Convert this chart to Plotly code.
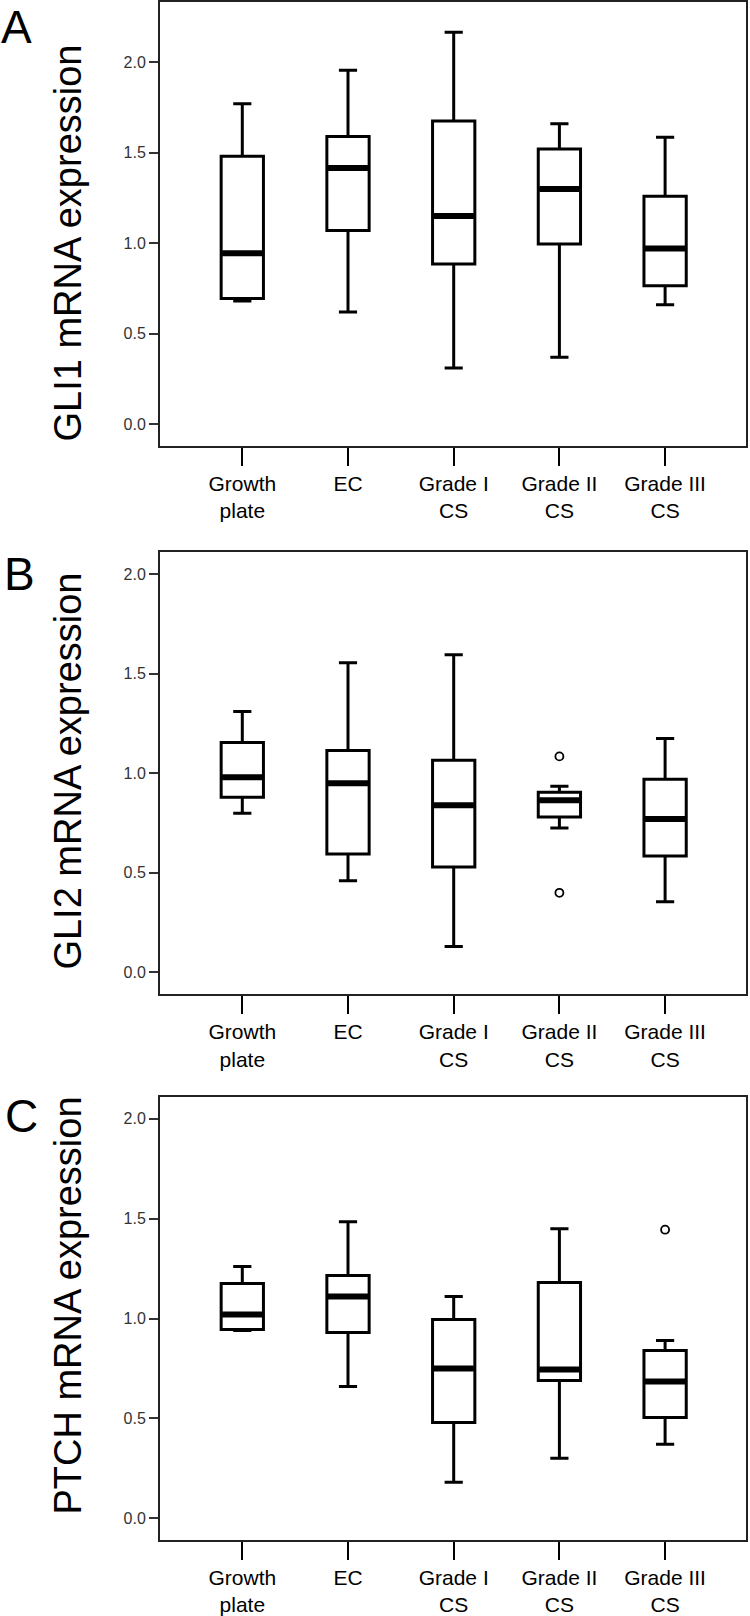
import plotly.graph_objects as go

W, H = 750, 1616

categories = ["Growth<br>plate", "EC", "Grade I<br>CS", "Grade II<br>CS", "Grade III<br>CS"]

# Panel A: GLI1
gli1_lower = [0.68, 0.62, 0.31, 0.37, 0.66]
gli1_q1 = [0.695, 1.07, 0.885, 0.995, 0.765]
gli1_median = [0.945, 1.415, 1.15, 1.30, 0.97]
gli1_q3 = [1.48, 1.59, 1.675, 1.52, 1.26]
gli1_upper = [1.77, 1.955, 2.165, 1.66, 1.585]
gli1_outlier_cat = []
gli1_outlier_val = []

# Panel B: GLI2
gli2_lower = [0.80, 0.46, 0.13, 0.725, 0.355]
gli2_q1 = [0.88, 0.595, 0.53, 0.78, 0.585]
gli2_median = [0.98, 0.95, 0.84, 0.865, 0.77]
gli2_q3 = [1.155, 1.115, 1.065, 0.905, 0.97]
gli2_upper = [1.31, 1.555, 1.595, 0.935, 1.175]
gli2_outlier_cat = [3, 3]
gli2_outlier_val = [1.085, 0.40]

# Panel C: PTCH
ptch_lower = [0.94, 0.66, 0.18, 0.30, 0.37]
ptch_q1 = [0.945, 0.93, 0.48, 0.69, 0.505]
ptch_median = [1.02, 1.11, 0.75, 0.745, 0.685]
ptch_q3 = [1.175, 1.215, 0.995, 1.18, 0.84]
ptch_upper = [1.26, 1.485, 1.11, 1.45, 0.89]
ptch_outlier_cat = [4]
ptch_outlier_val = [1.445]

y_ticks = [0.0, 0.5, 1.0, 1.5, 2.0]
titles = ["GLI1 mRNA expression", "GLI2 mRNA expression", "PTCH mRNA expression"]
letters = ["A", "B", "C"]

panels = [
    (gli1_lower, gli1_q1, gli1_median, gli1_q3, gli1_upper, gli1_outlier_cat, gli1_outlier_val),
    (gli2_lower, gli2_q1, gli2_median, gli2_q3, gli2_upper, gli2_outlier_cat, gli2_outlier_val),
    (ptch_lower, ptch_q1, ptch_median, ptch_q3, ptch_upper, ptch_outlier_cat, ptch_outlier_val),
]

# pixel layout (top, bottom) of each frame
frames_px = [(1.5, 445.7), (552.3, 995.0), (1098.3, 1541.7)]
y_ranges = [[-0.12, 2.33], [-0.109, 2.11], [-0.108, 2.108]]
x_left, x_right = 160.0, 746.0
title_cy = [243, 772, 1307]
letter_pos = [(16.5, 26.5), (19, 574), (21, 1117)]

FONT = "Liberation Sans, Arial, sans-serif"
BOX_W = 0.4

fig = go.Figure()
xpos = list(range(len(categories)))

for k, (lo, q1, med, q3, up, ocat, oval) in enumerate(panels):
    xa = "x" if k == 0 else f"x{k+1}"
    ya = "y" if k == 0 else f"y{k+1}"
    fig.add_trace(go.Box(
        x=xpos, q1=q1, median=med, q3=q3, lowerfence=lo, upperfence=up,
        width=BOX_W, whiskerwidth=0.43, boxpoints=False,
        line=dict(color="black", width=3), fillcolor="white",
        xaxis=xa, yaxis=ya, showlegend=False, hoverinfo="skip",
    ))
    # thick median lines
    for i, m in enumerate(med):
        fig.add_trace(go.Scatter(
            x=[xpos[i] - BOX_W / 2 + 0.01, xpos[i] + BOX_W / 2 - 0.01], y=[m, m],
            mode="lines", line=dict(color="black", width=6),
            xaxis=xa, yaxis=ya, showlegend=False, hoverinfo="skip",
        ))
    if ocat:
        fig.add_trace(go.Scatter(
            x=ocat, y=oval, mode="markers",
            marker=dict(symbol="circle-open", size=8, color="black", line=dict(width=1.8)),
            xaxis=xa, yaxis=ya, showlegend=False, hoverinfo="skip",
        ))

layout = dict(
    width=W, height=H,
    margin=dict(l=0, r=0, t=0, b=0),
    paper_bgcolor="white", plot_bgcolor="white",
    showlegend=False,
    font=dict(family=FONT, color="black"),
)

# category positions: index 0 at 242.3 px, spacing 105.7 px
c0, dc = 242.3, 105.7
xr = [(x_left - c0) / dc, (x_right - c0) / dc]

annotations = []
for k in range(3):
    top, bot = frames_px[k]
    suffix = "" if k == 0 else str(k + 1)
    layout["xaxis" + suffix] = dict(
        domain=[x_left / W, x_right / W], anchor="y" + suffix,
        range=xr, tickmode="array", tickvals=xpos, ticktext=categories,
        ticks="outside", ticklen=18, tickwidth=2, tickcolor="black",
        showline=True, linecolor="#222", linewidth=2, mirror=True,
        showgrid=False, zeroline=False,
        tickfont=dict(family=FONT, size=21, color="black"),
    )
    layout["yaxis" + suffix] = dict(
        domain=[1 - bot / H, 1 - top / H], anchor="x" + suffix,
        range=y_ranges[k], tickmode="array", tickvals=y_ticks,
        tickformat=".1f",
        ticks="outside", ticklen=9, tickwidth=1.5, tickcolor="#333",
        showline=True, linecolor="#222", linewidth=2, mirror=True,
        showgrid=False, zeroline=False,
        tickfont=dict(family=FONT, size=16, color="#333"),
    )
    annotations.append(dict(
        text=titles[k], x=68 / W, y=1 - title_cy[k] / H, xref="paper", yref="paper",
        xanchor="center", yanchor="middle", textangle=-90, showarrow=False,
        font=dict(family=FONT, size=38, color="black"),
    ))
    lx, ly = letter_pos[k]
    annotations.append(dict(
        text=letters[k], x=lx / W, y=1 - ly / H, xref="paper", yref="paper",
        xanchor="center", yanchor="middle", showarrow=False,
        font=dict(family=FONT, size=46, color="black"),
    ))

layout["annotations"] = annotations
fig.update_layout(**layout)

page_fix = "document.body.style.margin='0';document.body.style.overflow='hidden';"
fig.write_html("out.html", post_script=page_fix, config={"displayModeBar": False})
